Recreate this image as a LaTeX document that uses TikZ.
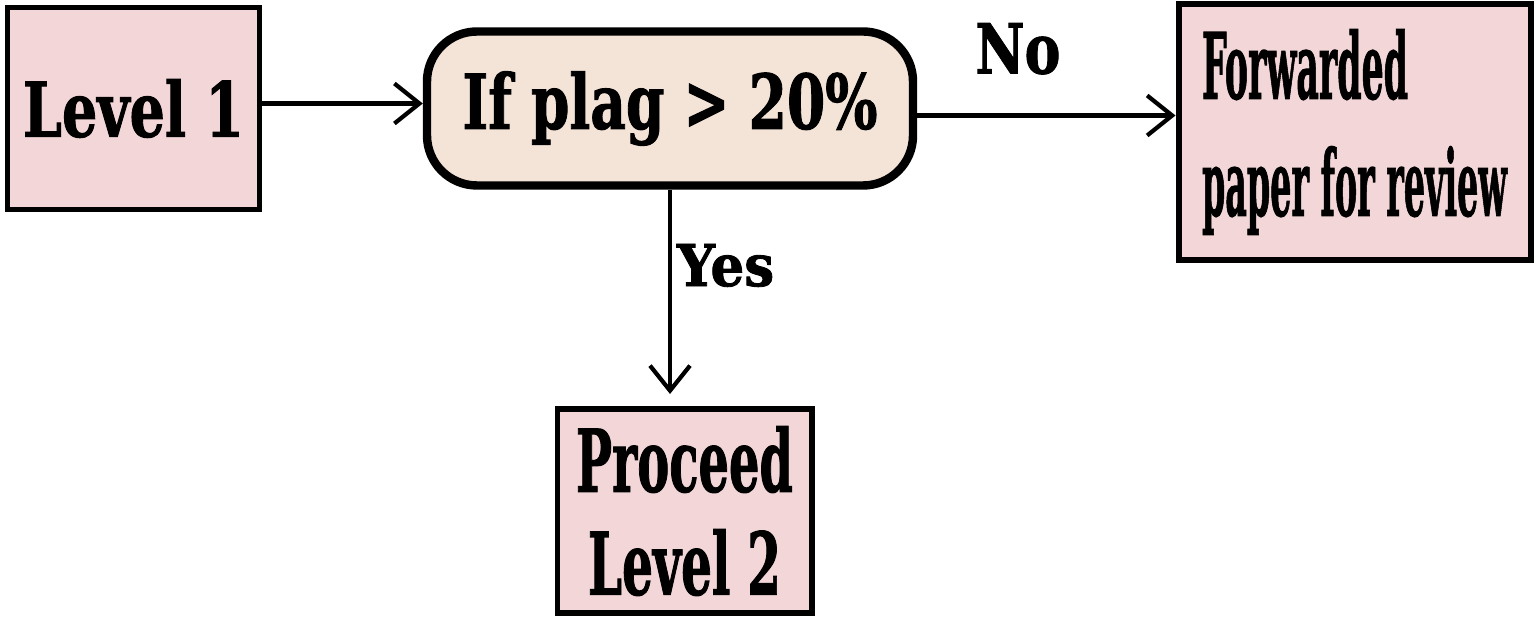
\documentclass[tikz,border=0pt]{standalone}
\usepackage{fontspec}
\setmainfont{DejaVu Serif}[BoldFeatures={FakeBold=1.5}]
\usepackage{graphicx}
\usepackage{tikz}
\usetikzlibrary{positioning, arrows.meta}
\usepackage{xcolor}
\definecolor{boxpink}{RGB}{242,214,216}
\definecolor{decpeach}{RGB}{244,228,216}
\newcommand{\fitto}[2]{\resizebox{#1}{\height}{#2}}
\tikzstyle{levelbox} = [rectangle, text centered, draw=black, line width=1.7pt, fill=boxpink]
\tikzstyle{decision} = [rectangle, rounded corners=0.5cm, text centered, draw=black, line width=2.4pt, fill=decpeach]
\tikzstyle{arrow} = [line width=1.2pt, -{Straight Barb[length=2.5mm, width=4mm]}]
\tikzstyle{answer} = [inner sep=0pt, font=\bfseries]

\begin{document}
\begin{tikzpicture}[node distance=1.5cm]
        \useasboundingbox (0,0) rectangle (15.36,6.18);
        \node (level1) [levelbox, minimum width=2.52cm, minimum height=2.02cm, font=\bfseries\fontsize{21.5pt}{26pt}\selectfont] at (1.335,5.095) {\fitto{2.21cm}{Level 1}};
        \node (check) [decision, right of=level1, xshift=3.865cm, minimum width=4.86cm, minimum height=1.54cm, font=\bfseries\fontsize{21.5pt}{26pt}\selectfont] {\fitto{4.15cm}{If plag > 20\%}};
        \node (forward) [levelbox, right of=check, xshift=5.345cm, yshift=-0.235cm, minimum width=3.52cm, minimum height=2.56cm, align=left, font=\bfseries\fontsize{26pt}{33.3pt}\selectfont] {\fitto{2.06cm}{Forwarded}\\\fitto{3.05cm}{paper for review}};
        \node (level2) [levelbox, below of=check, xshift=0.145cm, yshift=-2.525cm, minimum width=2.54cm, minimum height=2.04cm, align=center, font=\bfseries\fontsize{24.5pt}{29.3pt}\selectfont] {\fitto{2.17cm}{Proceed}\\\fitto{1.93cm}{Level 2}};
        
        \draw [arrow] ([yshift=0.05cm]level1.east) -- ([yshift=0.05cm]check.west);
        \draw [arrow] ([yshift=-0.07cm]check.east) -- node[answer, pos=0.39, above=0.39cm] {\fontsize{19.6pt}{24pt}\selectfont\fitto{0.85cm}{No}} ([yshift=-0.07cm]check.east -| forward.west);
        \draw [arrow, shorten >=0.12cm] (check.south) -- node[answer, pos=0.35, right=0.05cm] {\fontsize{16.4pt}{20pt}\selectfont\fitto{0.97cm}{Yes}} (check.south |- level2.north);
    \end{tikzpicture}
\end{document}
